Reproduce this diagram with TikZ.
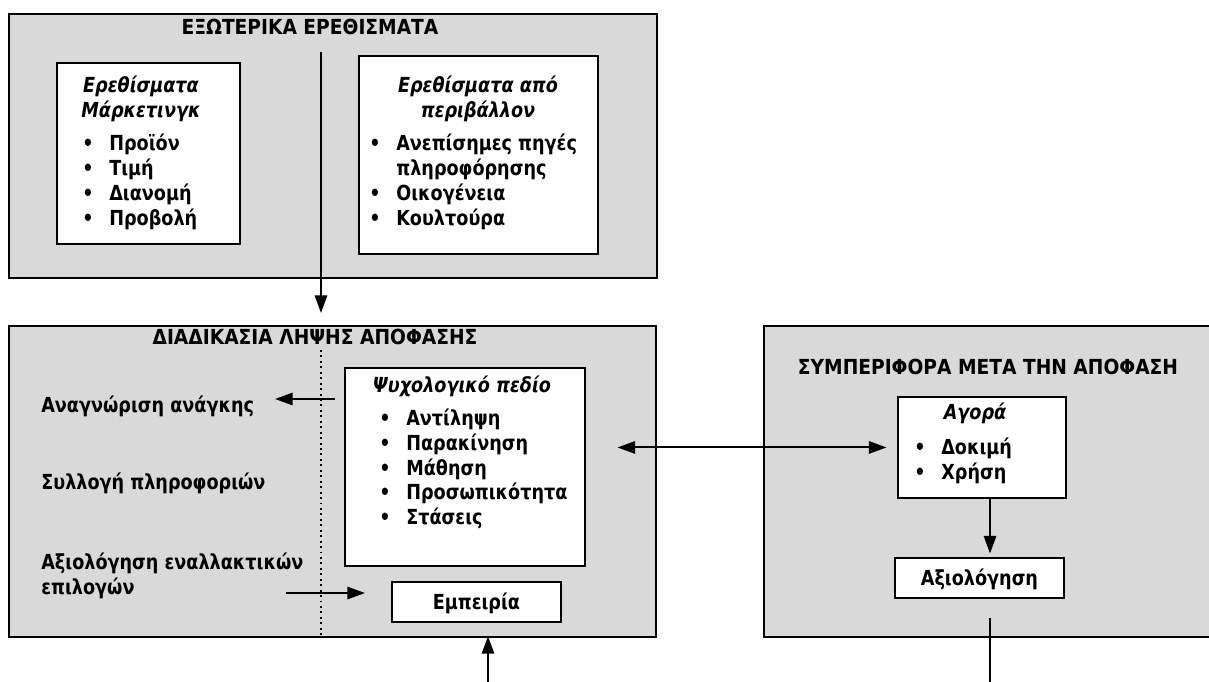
\documentclass[tikz,border=0pt]{standalone}
\usepackage{fontspec}
\setmainfont[FakeStretch=0.85]{DejaVu Sans}
\newfontfamily\headfont[FakeStretch=0.9]{DejaVu Sans}
\usepackage{tikz}
\usetikzlibrary{arrows.meta,positioning}

\definecolor{panelgrey}{RGB}{217,217,217}
\newcommand{\bul}{\makebox[0.54cm][l]{•}}

\tikzset{
  greybox/.style={draw,line width=1.1pt,fill=panelgrey,anchor=north west,inner sep=0pt},
  whitebox/.style={draw,line width=1.1pt,fill=white,anchor=north west,inner sep=0pt},
  lbl/.style={font=\fontsize{11.8}{14}\selectfont\bfseries,inner sep=0pt,text height=8.6pt,text depth=0pt},
  head/.style={lbl,font=\fontsize{11.8}{14}\selectfont\headfont\bfseries},
  ttl/.style={lbl,font=\fontsize{11.8}{14}\selectfont\bfseries\itshape},
  item/.style={lbl,anchor=west},
  arr/.style={line width=1.1pt,-{Triangle[length=10pt,width=7pt]}},
  dblarr/.style={line width=1.1pt,{Triangle[length=10pt,width=7pt]}-{Triangle[length=10pt,width=7pt]}}
}

\begin{document}
\begin{tikzpicture}[x=0.02cm,y=-0.02cm]
  \useasboundingbox (0,0) rectangle (1209,682);

  % external stimuli
  \node[greybox,minimum width=12.96cm,minimum height=5.28cm] (ext) at (8,13) {};
  \node[head] (exttitle) at (310,27) {ΕΞΩΤΕΡΙΚΑ ΕΡΕΘΙΣΜΑΤΑ};
  \node[whitebox,minimum width=3.66cm,minimum height=3.62cm] (mkt) at (56,62) {};
  \node[ttl] (mkta) at (141,85) {Ερεθίσματα};
  \node[ttl] (mktb) at (141,110) {Μάρκετινγκ};
  \node[item] (mk1) at (82,143) {\bul Προϊόν};
  \node[item] (mk2) at (82,168) {\bul Τιμή};
  \node[item] (mk3) at (82,193) {\bul Διανομή};
  \node[item] (mk4) at (82,218) {\bul Προβολή};
  \node[whitebox,minimum width=4.78cm,minimum height=3.96cm] (env) at (358,55) {};
  \node[ttl] (enva) at (478,85) {Ερεθίσματα από};
  \node[ttl] (envb) at (478,110) {περιβάλλον};
  \node[item] (en1) at (369,143) {\bul Ανεπίσημες πηγές};
  \node[item] (en1b) at (396,168) {πληροφόρησης};
  \node[item] (en2) at (369,193) {\bul Οικογένεια};
  \node[item] (en3) at (369,218) {\bul Κουλτούρα};

  % decision process
  \node[greybox,minimum width=12.94cm,minimum height=6.22cm] (dec) at (8,325) {};
  \node[head] (dectitle) at (315,337) {ΔΙΑΔΙΚΑΣΙΑ ΛΗΨΗΣ ΑΠΟΦΑΣΗΣ};
  \node[whitebox,minimum width=4.8cm,minimum height=3.96cm] (psy) at (344,367) {};
  \node[ttl] (psytitle) at (462,385) {Ψυχολογικό πεδίο};
  \node[item] (ps1) at (379,418) {\bul Αντίληψη};
  \node[item] (ps2) at (379,443) {\bul Παρακίνηση};
  \node[item] (ps3) at (379,468) {\bul Μάθηση};
  \node[item] (ps4) at (379,492) {\bul Προσωπικότητα};
  \node[item] (ps5) at (379,517) {\bul Στάσεις};
  \node[item] (need) at (41,405) {Αναγνώριση ανάγκης};
  \node[item] (info) at (41,482) {Συλλογή πληροφοριών};
  \node[item] (alta) at (41,562) {Αξιολόγηση εναλλακτικών};
  \node[item] (altb) at (41,587) {επιλογών};
  \node[whitebox,minimum width=3.38cm,minimum height=0.8cm] (exp) at (391,581) {};
  \node[lbl] (exptext) at (exp.center) {Εμπειρία};

  % post-decision behaviour
  \node[greybox,minimum width=9.2cm,minimum height=6.22cm] (post) at (763,325) {};
  \node[head] (posttitle) at (988,367) {ΣΥΜΠΕΡΙΦΟΡΑ ΜΕΤΑ ΤΗΝ ΑΠΟΦΑΣΗ};
  \node[whitebox,minimum width=3.36cm,minimum height=2.02cm] (buy) at (897,396) {};
  \node[ttl] (buytitle) at (975,412) {Αγορά};
  \node[item] (bu1) at (914,447) {\bul Δοκιμή};
  \node[item] (bu2) at (914,472) {\bul Χρήση};
  \node[whitebox,minimum width=3.38cm,minimum height=0.8cm] (eval) at (894,557) {};
  \node[lbl] (evaltext) at (eval.center) {Αξιολόγηση};

  % connectors
  \coordinate (extsrc) at (321,52);
  \coordinate (dectop) at (321,313);
  \coordinate (dotsrc) at (321,350);
  \coordinate (needsrc) at (335,399);
  \coordinate (needtip) at (275,399);
  \coordinate (altsrc) at (286,593);
  \coordinate (alttip) at (365,593);
  \coordinate (expsrc) at (488,682);
  \coordinate (expx) at (488,0);
  \coordinate (ax) at (990,0);
  \coordinate (evalend) at (990,682);
  \draw[arr] (extsrc) -- (dectop);
  \draw[line width=1.1pt,dotted] (dotsrc) -- (dotsrc |- dec.south);
  \draw[arr] (needsrc) -- (needtip);
  \draw[arr] (altsrc) -- (alttip);
  \draw[arr,shorten >=-1pt] (expsrc) -- (dec.south -| expx);
  \draw[dblarr,shorten <=18,shorten >=6] (psy.east |- buy.west) -- (buy.west);
  \draw[arr,shorten >=2] (buy.south -| ax) -- (eval.north -| ax);
  \draw[line width=1.1pt,shorten <=11] (eval.south -| ax) -- (evalend);
\end{tikzpicture}
\end{document}
